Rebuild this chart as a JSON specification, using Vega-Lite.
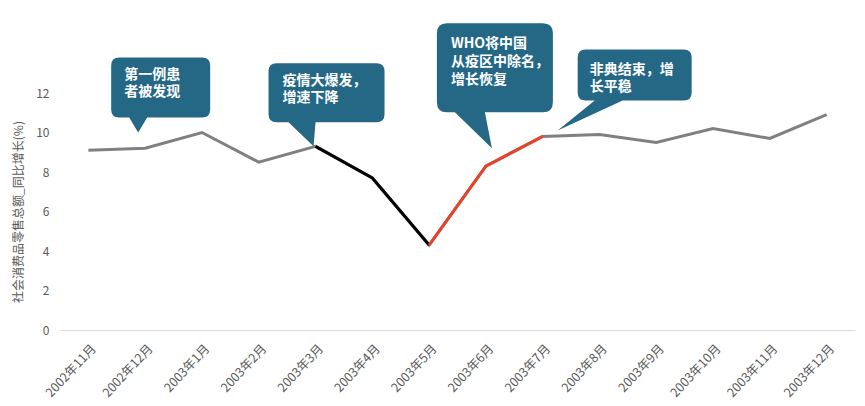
{
  "$schema": "https://vega.github.io/schema/vega-lite/v6.json",
  "width": 795,
  "height": 237,
  "autosize": "none",
  "padding": {"left": 60, "top": 93, "right": 10, "bottom": 76},
  "config": {
    "view": {"stroke": null},
    "font": "Noto Sans CJK SC"
  },
  "datasets": {
    "sales": [
      {"month": "2002年11月", "growth": 9.1},
      {"month": "2002年12月", "growth": 9.2},
      {"month": "2003年1月", "growth": 10.0},
      {"month": "2003年2月", "growth": 8.5},
      {"month": "2003年3月", "growth": 9.3},
      {"month": "2003年4月", "growth": 7.7},
      {"month": "2003年5月", "growth": 4.3},
      {"month": "2003年6月", "growth": 8.3},
      {"month": "2003年7月", "growth": 9.8},
      {"month": "2003年8月", "growth": 9.9},
      {"month": "2003年9月", "growth": 9.5},
      {"month": "2003年10月", "growth": 10.2},
      {"month": "2003年11月", "growth": 9.7},
      {"month": "2003年12月", "growth": 10.9}
    ],
    "notes": [
      {"id": "first", "month": "2002年12月", "at": 10.0, "note": "第一例患\n者被发现"},
      {"id": "outbreak", "month": "2003年3月", "at": 9.3, "note": "疫情大爆发，\n增速下降"},
      {"id": "who", "month": "2003年6月", "at": 9.2, "note": "WHO将中国\n从疫区中除名，\n增长恢复"},
      {"id": "end", "month": "2003年7月", "at": 10.1, "note": "非典结束，增\n长平稳"}
    ]
  },
  "encoding": {
    "x": {
      "field": "month",
      "type": "ordinal",
      "scale": {
        "type": "point",
        "padding": 0.5,
        "domain": ["2002年11月", "2002年12月", "2003年1月", "2003年2月", "2003年3月", "2003年4月", "2003年5月", "2003年6月", "2003年7月", "2003年8月", "2003年9月", "2003年10月", "2003年11月", "2003年12月"]
      },
      "axis": {
        "title": null,
        "domainColor": "#d9d9d9",
        "domainWidth": 1,
        "ticks": false,
        "grid": false,
        "labelAngle": -47,
        "labelAlign": "right",
        "labelBaseline": "middle",
        "labelColor": "#595959",
        "labelFontSize": 12.5,
        "labelPadding": 16,
        "labelOffset": 5
      }
    },
    "y": {
      "type": "quantitative",
      "scale": {"domain": [0, 12], "nice": false},
      "axis": {
        "values": [0, 2, 4, 6, 8, 10, 12],
        "title": "社会消费品零售总额_同比增长(%)",
        "titleColor": "#595959",
        "titleFontSize": 12,
        "titleFontWeight": "normal",
        "titlePadding": 10,
        "domain": false,
        "ticks": false,
        "grid": false,
        "labelColor": "#595959",
        "labelFontSize": 12,
        "labelPadding": 11
      }
    }
  },
  "layer": [
    {
      "data": {"name": "sales"},
      "mark": {"type": "line", "color": "#808080", "strokeWidth": 3},
      "encoding": {"y": {"field": "growth"}}
    },
    {
      "data": {"name": "sales"},
      "transform": [{"filter": {"field": "month", "oneOf": ["2003年3月", "2003年4月", "2003年5月"]}}],
      "mark": {"type": "line", "color": "#000000", "strokeWidth": 3},
      "encoding": {"y": {"field": "growth"}}
    },
    {
      "data": {"name": "sales"},
      "transform": [{"filter": {"field": "month", "oneOf": ["2003年5月", "2003年6月", "2003年7月"]}}],
      "mark": {"type": "line", "color": "#e8432a", "strokeWidth": 3},
      "encoding": {"y": {"field": "growth"}}
    },
    {
      "data": {"name": "notes"},
      "mark": {"type": "point", "filled": true, "size": 4, "color": "#256886", "opacity": 1, "strokeWidth": 0},
      "encoding": {
        "y": {"field": "at"},
        "shape": {
          "field": "id",
          "type": "nominal",
          "legend": null,
          "scale": {
            "domain": ["first", "outbreak", "who", "end"],
            "range": [
              "M -26 -75 L 57 -75 Q 65 -75 65 -67 L 65 -23 Q 65 -15 57 -15 L 2 -15 L -7 0 L -16 -15 L -26 -15 Q -34 -15 -34 -23 L -34 -67 Q -34 -75 -26 -75 Z",
              "M -39 -83 L 61 -83 Q 69 -83 69 -75 L 69 -32 Q 69 -24 61 -24 L 0 -24 L -2 0 L -27 -24 L -39 -24 Q -47 -24 -47 -32 L -47 -75 Q -47 -83 -39 -83 Z",
              "M -39 -125 L 57 -125 Q 67 -125 67 -115 L 67 -46 Q 67 -36 57 -36 L -1 -36 L 6 0 L -31 -36 L -39 -36 Q -49 -36 -49 -46 L -49 -115 Q -49 -125 -39 -125 Z",
              "M 43 -81 L 141 -81 Q 149 -81 149 -73 L 149 -38 Q 149 -30 141 -30 L 80 -30 L 15 0 L 52 -30 L 43 -30 Q 35 -30 35 -38 L 35 -73 Q 35 -81 43 -81 Z"
            ]
          }
        }
      }
    },
    {
      "data": {"name": "notes"},
      "transform": [{"filter": "datum.id === 'first'"}],
      "mark": {"type": "text", "align": "left", "baseline": "alphabetic", "lineBreak": "\n", "lineHeight": 17, "dx": -21, "dy": -54, "fontSize": 14, "fontWeight": "bold", "color": "#ffffff"},
      "encoding": {"y": {"field": "at"}, "text": {"field": "note"}}
    },
    {
      "data": {"name": "notes"},
      "transform": [{"filter": "datum.id === 'outbreak'"}],
      "mark": {"type": "text", "align": "left", "baseline": "alphabetic", "lineBreak": "\n", "lineHeight": 17, "dx": -33, "dy": -61, "fontSize": 14, "fontWeight": "bold", "color": "#ffffff"},
      "encoding": {"y": {"field": "at"}, "text": {"field": "note"}}
    },
    {
      "data": {"name": "notes"},
      "transform": [{"filter": "datum.id === 'who'"}],
      "mark": {"type": "text", "align": "left", "baseline": "alphabetic", "lineBreak": "\n", "lineHeight": 18, "dx": -35, "dy": -100, "fontSize": 14, "fontWeight": "bold", "color": "#ffffff"},
      "encoding": {"y": {"field": "at"}, "text": {"field": "note"}}
    },
    {
      "data": {"name": "notes"},
      "transform": [{"filter": "datum.id === 'end'"}],
      "mark": {"type": "text", "align": "left", "baseline": "alphabetic", "lineBreak": "\n", "lineHeight": 17, "dx": 47, "dy": -57, "fontSize": 14, "fontWeight": "bold", "color": "#ffffff"},
      "encoding": {"y": {"field": "at"}, "text": {"field": "note"}}
    }
  ]
}
